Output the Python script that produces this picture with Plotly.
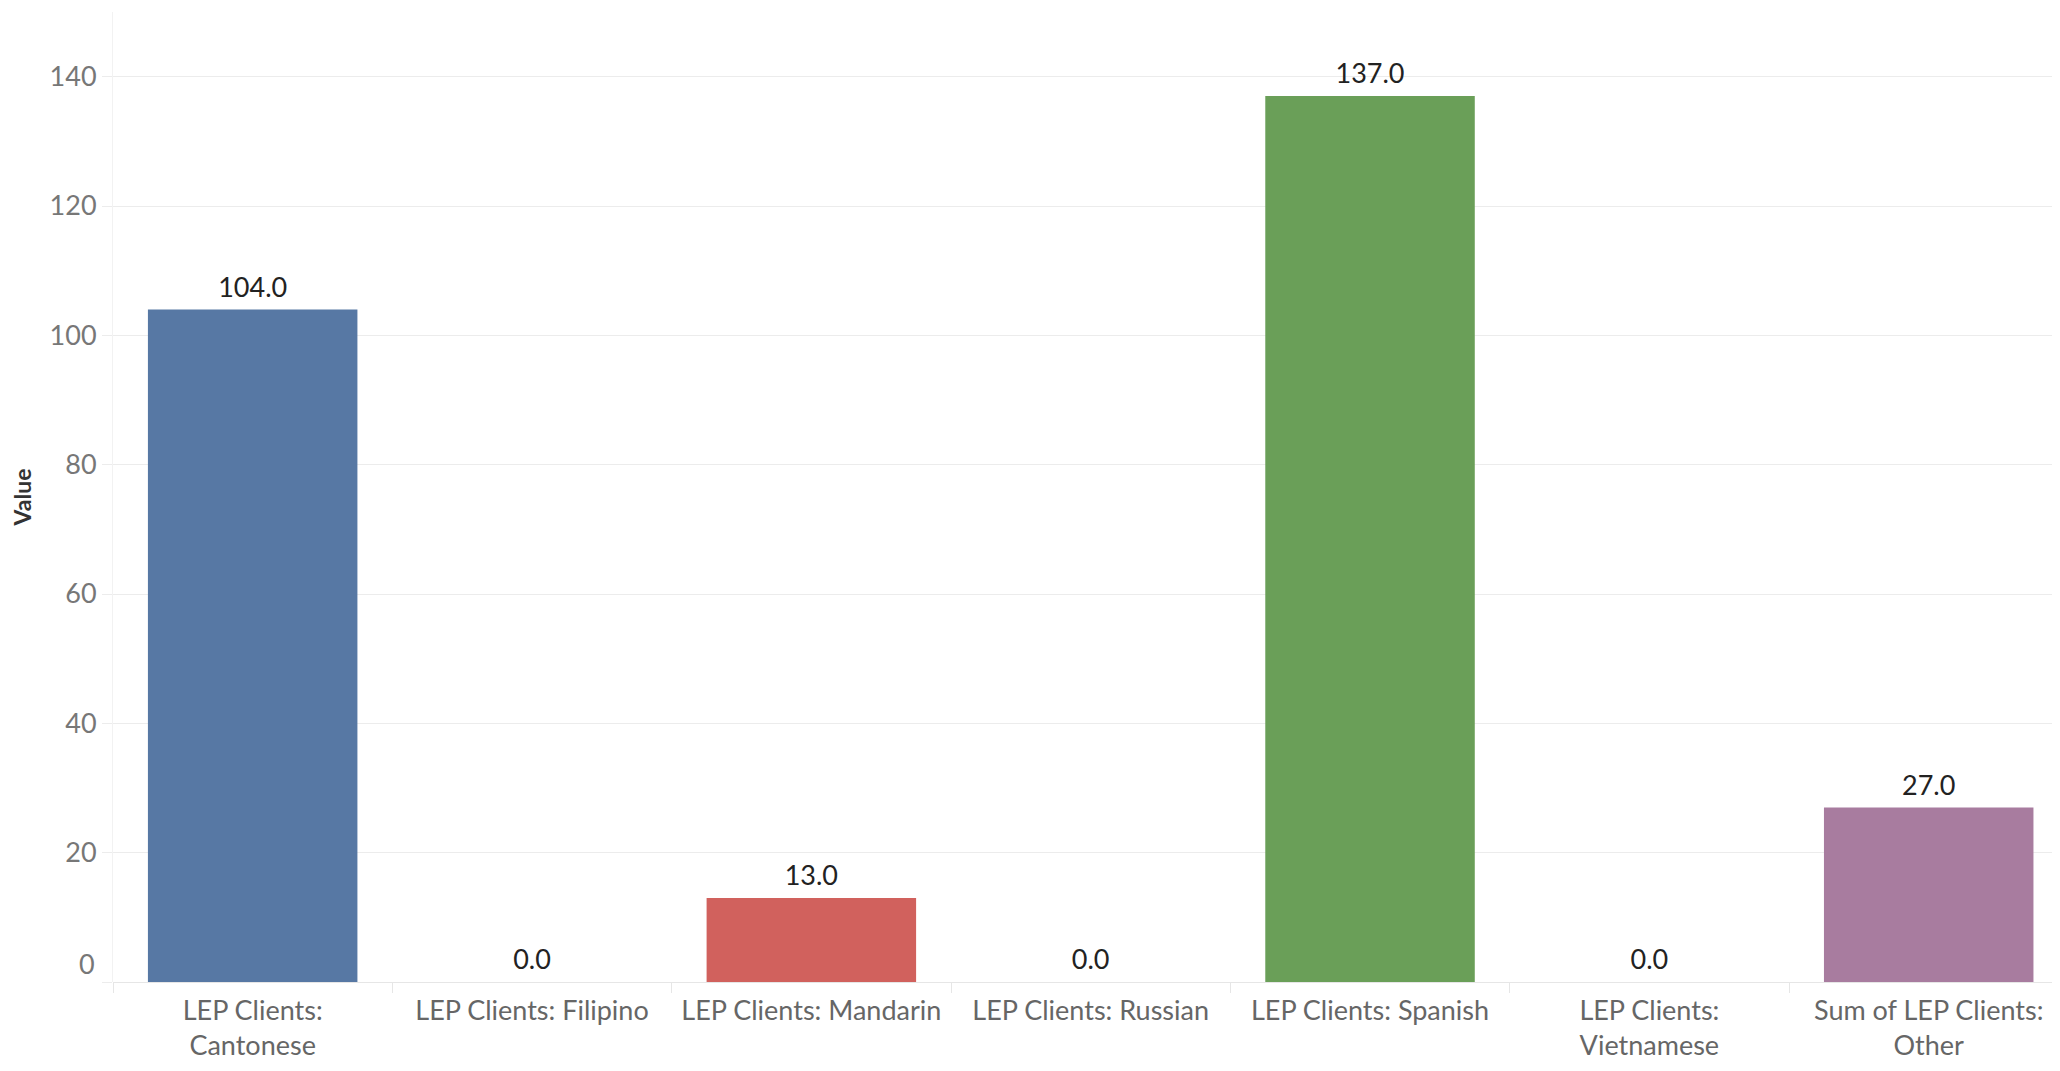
import plotly.graph_objects as go

categories = [
    "LEP Clients:<br>Cantonese",
    "LEP Clients: Filipino",
    "LEP Clients: Mandarin",
    "LEP Clients: Russian",
    "LEP Clients: Spanish",
    "LEP Clients:<br>Vietnamese",
    "Sum of LEP Clients:<br>Other",
]
values = [104.0, 0.0, 13.0, 0.0, 137.0, 0.0, 27.0]
bar_colors = ["#5778a4", "#e49444", "#d1615d", "#85b6b2", "#6a9f58", "#e7ca60", "#a87c9f"]

y_ticks = [0, 20, 40, 60, 80, 100, 120, 140]
y_tick_text = ["", "20", "40", "60", "80", "100", "120", "140"]

FONT = "Lato"

fig = go.Figure()
fig.add_trace(go.Bar(
    x=categories,
    y=values,
    marker=dict(color=bar_colors, line=dict(width=0)),
    showlegend=False,
    hoverinfo="skip",
))
fig.add_trace(go.Scatter(
    x=categories,
    y=values,
    mode="markers+text",
    marker=dict(size=8, opacity=0),
    text=[f"{v:.1f}" for v in values],
    textposition="top center",
    textfont=dict(family=FONT, size=27, color="#222222"),
    cliponaxis=False,
    showlegend=False,
))

fig.add_annotation(
    text="0", x=0, xref="paper", y=0, yref="y",
    xanchor="right", yanchor="middle", xshift=-16, yshift=19,
    showarrow=False, font=dict(family=FONT, size=27, color="#777777"),
)

fig.update_layout(
    width=2052, height=1063,
    margin=dict(l=102, r=0, t=4, b=89),
    paper_bgcolor="white", plot_bgcolor="white",
    bargap=0.25,
    font=dict(family=FONT),
    xaxis=dict(
        type="category",
        range=[-0.5, 6.47],
        showgrid=False,
        tickson="boundaries",
        ticks="outside", ticklen=10, tickcolor="#e6e6e6", tickwidth=1,
        tickfont=dict(family=FONT, size=27, color="#666666"),
        ticklabelstandoff=10,
        showline=False, zeroline=False,
    ),
    yaxis=dict(
        range=[0, 150],
        tickvals=y_ticks, ticktext=y_tick_text,
        showgrid=True, gridcolor="#ececec", gridwidth=1,
        zeroline=True, zerolinecolor="#e6e6e6", zerolinewidth=1,
        ticks="outside", ticklen=10, tickcolor="#ececec",
        tickfont=dict(family=FONT, size=27, color="#777777"),
        showline=True, linecolor="#f2f2f2", linewidth=1,
        title=dict(text="<b>Value</b>", font=dict(family=FONT, size=23, color="#333333"), standoff=26),
    ),
)

fig.write_html("out.html")
